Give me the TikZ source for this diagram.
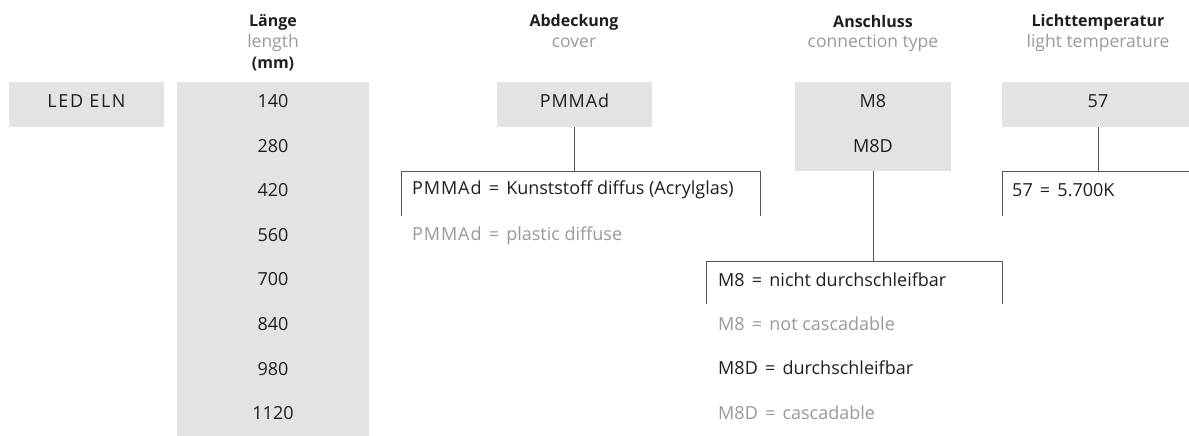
\documentclass[tikz,border=0pt]{standalone}
\usepackage{fontspec}
\setmainfont{Open Sans}
\definecolor{boxgray}{HTML}{E3E3E3}
\definecolor{txt}{HTML}{1E1E1E}
\definecolor{subtxt}{HTML}{999999}
\definecolor{linegray}{HTML}{555555}
\newcommand{\myeq}{\hspace{0.4em}=\hspace{0.4em}}
\begin{document}
\begin{tikzpicture}[x=1pt,y=-1pt,
  box/.style={fill=boxgray,draw=none,inner sep=0pt},
  val/.style={inner sep=0pt,text=txt,font=\fontsize{18}{20}\selectfont},
  sval/.style={val,font=\fontsize{18}{20}\selectfont\addfontfeature{LetterSpace=5}},
  lval/.style={val,anchor=west},
  gval/.style={val,anchor=west,text=subtxt},
  head/.style={inner sep=0pt,text=txt,font=\fontsize{16}{18}\selectfont\bfseries},
  sub/.style={inner sep=0pt,text=subtxt,font=\fontsize{17.5}{19}\selectfont},
  conn/.style={draw=linegray,line width=0.9pt}]
\useasboundingbox (0,0) rectangle (1189,436);
% headers
\node[head] (hl) at (273,22) {Länge};
\node[sub]  (hls) at (273,43) {length};
\node[head] (hlm) at (273,64) {(mm)};
\node[head] (ha) at (574,22) {Abdeckung};
\node[sub]  (has) at (574,43) {cover};
\node[head] (hc) at (873,22) {Anschluss};
\node[sub]  (hcs) at (873,43) {connection type};
\node[head] (ht) at (1098,22) {Lichttemperatur};
\node[sub]  (hts) at (1098,43) {light temperature};
% boxes
\node[box,minimum width=155,minimum height=45] (led) at (86.5,104.5) {};
\node[box,minimum width=192,minimum height=354] (len) at (273,259) {};
\node[box,minimum width=155,minimum height=45] (pmma) at (574.5,104.5) {};
\node[box,minimum width=156,minimum height=89] (anb) at (873,126.5) {};
\node[box,minimum width=187,minimum height=45] (lt) at (1095.5,104.5) {};
% box texts
\node[val,font=\fontsize{18}{20}\selectfont\addfontfeature{LetterSpace=9}] (ledt) at (86.5,101) {LED ELN};
\node[val] (l1) at (273,101) {140};
\node[val] (l2) at (273,145.6) {280};
\node[val] (l3) at (273,190.2) {420};
\node[val] (l4) at (273,234.8) {560};
\node[val] (l5) at (273,279.4) {700};
\node[val] (l6) at (273,324) {840};
\node[val] (l7) at (273,368.6) {980};
\node[val] (l8) at (273,413.2) {1120};
\node[sval] (pmmat) at (574.5,101) {PMMAd};
\node[val] (m8) at (873,101) {M8};
\node[val] (m8d) at (873,146) {M8D};
\node[val] (t57) at (1098,101) {57};
% legends
\node[lval] (pd) at (412,190) {{\addfontfeature{LetterSpace=5}PMMAd}\myeq Kunststoff diffus (Acrylglas)};
\node[gval] (pe) at (412,236) {{\addfontfeature{LetterSpace=5}PMMAd}\myeq plastic diffuse};
\node[lval] (kd) at (1012,190) {57\myeq 5.700K};
\node[lval] (c1) at (718,280) {M8\myeq nicht durchschleifbar};
\node[gval] (c2) at (718,324) {M8\myeq not cascadable};
\node[lval] (c3) at (718,368) {M8D\myeq durchschleifbar};
\node[gval] (c4) at (718,413) {M8D\myeq cascadable};
% connectors
\coordinate (pj) at (574.5,171);
\coordinate (pl) at (401,171);
\coordinate (pr) at (760,171);
\coordinate (pld) at (401,216);
\coordinate (prd) at (760,216);
\draw[conn] (pmma.south) -- (pj);
\draw[conn] (pld) -- (pl) -- (pr) -- (prd);
\coordinate (aj) at (873,261);
\coordinate (al) at (706,261);
\coordinate (ar) at (1002,261);
\coordinate (ald) at (706,304);
\coordinate (ard) at (1002,304);
\draw[conn] (anb.south) -- (aj);
\draw[conn] (ald) -- (al) -- (ar) -- (ard);
\coordinate (tj) at (1098,171);
\coordinate (tl) at (1002,171);
\coordinate (tr) at (1189,171);
\coordinate (tld) at (1002,216);
\draw[conn] (lt.south -| tj) -- (tj);
\draw[conn] (tld) -- (tl) -- (tr);
\end{tikzpicture}
\end{document}
